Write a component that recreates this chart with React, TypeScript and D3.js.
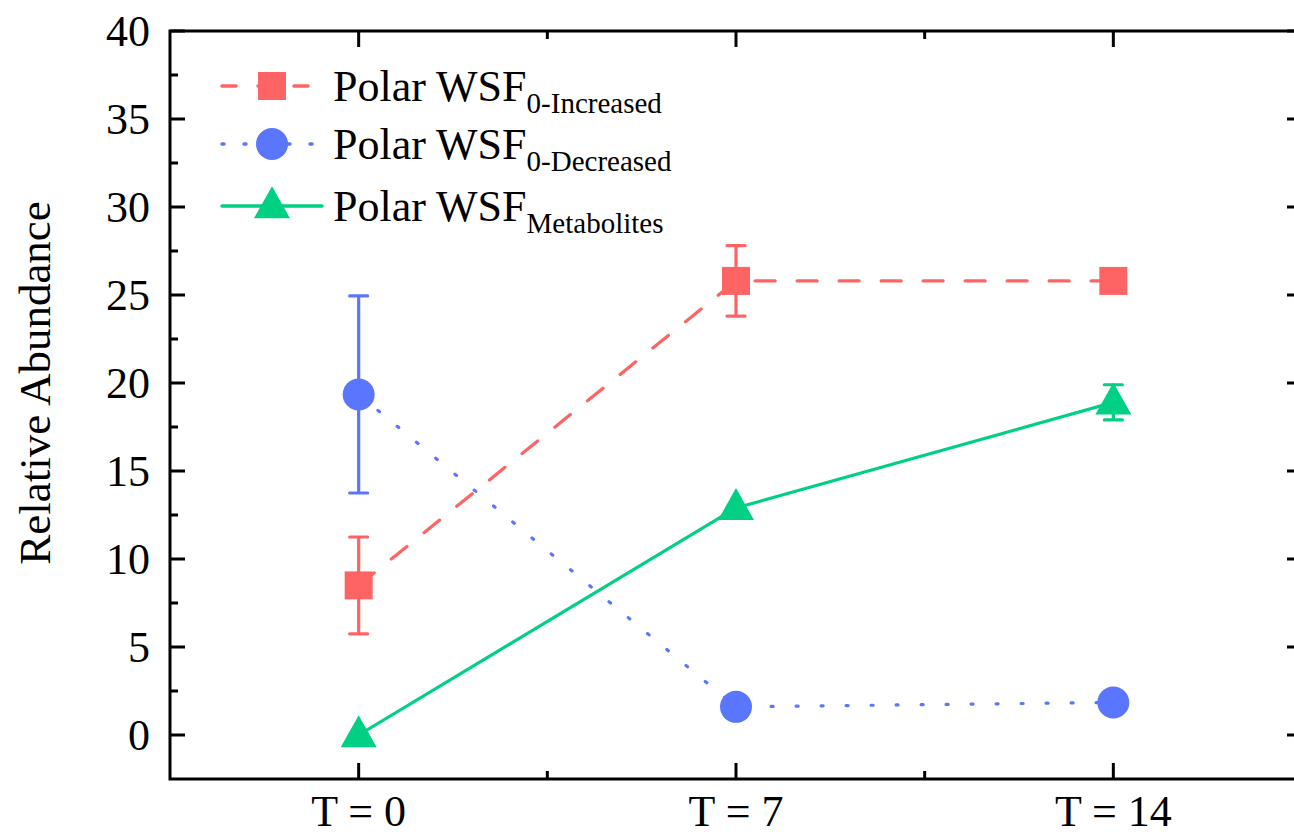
import React from "react";
import * as d3 from "d3";

const categories = ["T = 0", "T = 7", "T = 14"];
const increasedMean = [8.5, 25.8, 25.8];
const increasedErr = [2.75, 2.0, 0.6];
const decreasedMean = [19.35, 1.6, 1.85];
const decreasedErr = [5.6, 0, 0];
const metabolitesMean = [0, 12.9, 18.9];
const metabolitesErr = [0, 0, 1.0];
const yTicks = [0, 5, 10, 15, 20, 25, 30, 35, 40];
const yMinorTicks = [2.5, 7.5, 12.5, 17.5, 22.5, 27.5, 32.5, 37.5];

const RED = "#FF6464";
const BLUE = "#5A76FF";
const GREEN = "#00D084";
const FONT = "'Liberation Serif', 'Times New Roman', serif";

type Series = {
  name: string;
  sub: string;
  mean: number[];
  err: number[];
  color: string;
  dash: string;
  marker: "square" | "circle" | "triangle";
};

const series: Series[] = [
  { name: "Polar WSF", sub: "0-Increased", mean: increasedMean, err: increasedErr, color: RED, dash: "20 22", marker: "square" },
  { name: "Polar WSF", sub: "0-Decreased", mean: decreasedMean, err: decreasedErr, color: BLUE, dash: "2 23", marker: "circle" },
  { name: "Polar WSF", sub: "Metabolites", mean: metabolitesMean, err: metabolitesErr, color: GREEN, dash: "none", marker: "triangle" },
];

function Marker({ type, x, y, color }: { type: string; x: number; y: number; color: string }) {
  if (type === "square") return <rect x={x - 14} y={y - 14} width={28} height={28} fill={color} />;
  if (type === "circle") return <circle cx={x} cy={y} r={16} fill={color} />;
  const w = 36, h = 32;
  return <path d={`M${x},${y - h * 0.62}L${x + w / 2},${y + h * 0.38}L${x - w / 2},${y + h * 0.38}Z`} fill={color} />;
}

export default function App() {
  const W = 1294, H = 836;
  const left = 170, right = 1302, top = 31, bottom = 779;
  const x = d3.scaleLinear().domain([-0.5, 2.5]).range([left, right]);
  const y = d3.scaleLinear().domain([-2.5, 40]).range([bottom, top]);
  const line = d3.line<number>().x((_, i) => x(i)).y((v) => y(v));
  const xMinor = [0.5, 1.5];

  return (
    <svg width={W} height={H} style={{ position: "absolute", left: 0, top: 0, background: "#fff" }} fontFamily={FONT}>
      <rect x={left} y={top} width={right - left} height={bottom - top} fill="none" stroke="#000" strokeWidth={3} />
      {yTicks.map((t) => (
        <g key={"y" + t}>
          <line x1={left} x2={left + 15} y1={y(t)} y2={y(t)} stroke="#000" strokeWidth={3} />
          <line x1={right} x2={right - 15} y1={y(t)} y2={y(t)} stroke="#000" strokeWidth={3} />
          <text x={150} y={y(t)} dy="0.35em" textAnchor="end" fontSize={44}>{t}</text>
        </g>
      ))}
      {yMinorTicks.map((t) => (
        <g key={"ym" + t}>
          <line x1={left} x2={left + 8} y1={y(t)} y2={y(t)} stroke="#000" strokeWidth={3} />
          <line x1={right} x2={right - 8} y1={y(t)} y2={y(t)} stroke="#000" strokeWidth={3} />
        </g>
      ))}
      {categories.map((c, i) => (
        <g key={c}>
          <line x1={x(i)} x2={x(i)} y1={bottom} y2={bottom - 16} stroke="#000" strokeWidth={3} />
          <line x1={x(i)} x2={x(i)} y1={top} y2={top + 16} stroke="#000" strokeWidth={3} />
          <text x={x(i)} y={826} textAnchor="middle" fontSize={44}>{c}</text>
        </g>
      ))}
      {xMinor.map((t) => (
        <g key={"xm" + t}>
          <line x1={x(t)} x2={x(t)} y1={bottom} y2={bottom - 8} stroke="#000" strokeWidth={3} />
          <line x1={x(t)} x2={x(t)} y1={top} y2={top + 8} stroke="#000" strokeWidth={3} />
        </g>
      ))}
      <text transform={`translate(50,383) rotate(-90)`} textAnchor="middle" fontSize={45}>Relative Abundance</text>

      {series.map((s) => (
        <g key={s.sub}>
          <path d={line(s.mean) || ""} fill="none" stroke={s.color} strokeWidth={3.2} strokeDasharray={s.dash} strokeLinecap="round" />
          {s.mean.map((m, i) =>
            s.err[i] > 0 ? (
              <g key={i}>
                <line x1={x(i)} x2={x(i)} y1={y(m - s.err[i])} y2={y(m + s.err[i])} stroke={s.color} strokeWidth={3.2} />
                <line x1={x(i) - 9} x2={x(i) + 9} y1={y(m + s.err[i])} y2={y(m + s.err[i])} stroke={s.color} strokeWidth={3.2} strokeLinecap="round" />
                <line x1={x(i) - 9} x2={x(i) + 9} y1={y(m - s.err[i])} y2={y(m - s.err[i])} stroke={s.color} strokeWidth={3.2} strokeLinecap="round" />
              </g>
            ) : null
          )}
          {s.mean.map((m, i) => (
            <Marker key={"m" + i} type={s.marker} x={x(i)} y={y(m)} color={s.color} />
          ))}
        </g>
      ))}

      {series.map((s, i) => {
        const ly = [86, 144, 206][i];
        return (
          <g key={"lg" + i}>
            <line x1={222} x2={322} y1={ly} y2={ly} stroke={s.color} strokeWidth={3.5} strokeDasharray={s.marker === "square" ? "14 22" : s.marker === "circle" ? "2 20" : "none"} strokeLinecap="round" />
            <Marker type={s.marker} x={272} y={ly} color={s.color} />
            <text x={333} y={ly + 15} fontSize={44}>
              {s.name}
              <tspan fontSize={29} dy={12}>{s.sub}</tspan>
            </text>
          </g>
        );
      })}
    </svg>
  );
}
